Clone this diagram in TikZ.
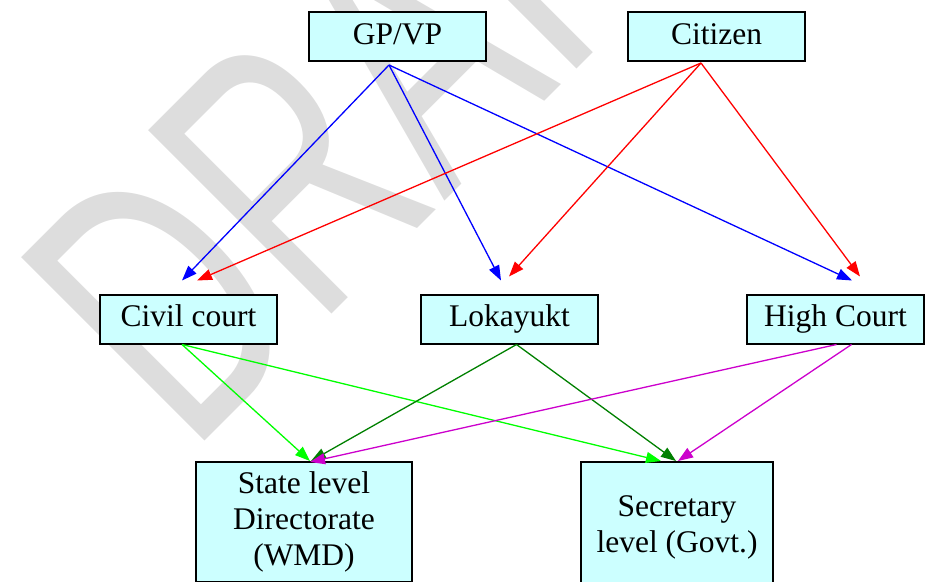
\documentclass[tikz,border=0pt]{standalone}
\usepackage{graphicx}
\usepackage{fontspec}
\setmainfont{Liberation Serif}
\newfontfamily\wmfont{Liberation Sans}
\usetikzlibrary{arrows.meta,calc}
\definecolor{boxfill}{HTML}{CCFFFF}
\definecolor{wmgray}{RGB}{221,221,221}
\definecolor{dkgreen}{HTML}{008000}
\definecolor{lgreen}{HTML}{00FF00}
\definecolor{mag}{HTML}{CC00CC}
\begin{document}
\begin{tikzpicture}[x=1pt,y=-1pt,
  box/.style={draw=black, line width=2pt, fill=boxfill, minimum width=177pt,
    minimum height=49pt, inner sep=0pt, font=\fontsize{31.5}{36}\selectfont},
  onebox/.style={box, text height=22pt, text depth=7pt},
  link/.style={line width=1.3pt, -{Triangle[length=15pt,width=11pt]}},
]
\useasboundingbox (0,0) rectangle (925,581);
\clip (0,0) rectangle (925,581);

% background watermark
\node (wm) [anchor=base west, inner sep=0pt, rotate=45, text=wmgray,
  font=\wmfont\fontsize{377}{400}\selectfont] at (190.6,455.4)
  {\scalebox{0.66}[1]{DRAFT}};

% boxes
\node[onebox] (gp)  at (397.5,36.5) {GP/VP};
\node[onebox] (cit) at (716.5,36.5) {Citizen};
\node[onebox] (civ) at (188.5,319) {Civil court};
\node[onebox] (lok) at (509.5,319) {Lokayukt};
\node[onebox] (hc)  at (835.5,319) {High Court};
\node[box, minimum width=216pt, minimum height=120pt, align=center] (sld)
  at (304,522) {State level\\Directorate\\(WMD)};
\node[box, minimum width=192pt, minimum height=130pt, align=center] (sec)
  at (677,527) {Secretary\\level (Govt.)};

% connector ends
\coordinate (gpO)  at ($(gp.south)+(-8.5,3)$);
\coordinate (citO) at ($(cit.south)+(-15.5,1)$);
\coordinate (civO) at ($(civ.south)+(-6.5,0)$);
\coordinate (lokO) at ($(lok.south)+(7,0)$);
\coordinate (hcOa) at ($(hc.south)+(1,0)$);
\coordinate (hcOb) at ($(hc.south)+(16,0)$);

\coordinate (civInB) at ($(civ.north)+(-6.5,-13)$);
\coordinate (civInR) at ($(civ.north)+(8.5,-13)$);
\coordinate (lokInB) at ($(lok.north)+(-8.5,-13)$);
\coordinate (lokInR) at ($(lok.north)+(-0.5,-17)$);
\coordinate (hcInB)  at ($(hc.north)+(16.5,-13)$);
\coordinate (hcInR)  at ($(hc.north)+(24.5,-17)$);
\coordinate (sldInG) at ($(sld.north)+(6,0)$);
\coordinate (sldInD) at ($(sld.north)+(7,0)$);
\coordinate (sldInM) at ($(sld.north)+(6,1)$);
\coordinate (secInG) at ($(sec.north)+(-16,0)$);
\coordinate (secInD) at ($(sec.north)+(-1,0)$);
\coordinate (secInM) at ($(sec.north)+(1,0)$);

% GP/VP
\draw[link, blue] (gpO) -- (civInB);
\draw[link, blue] (gpO) -- (lokInB);
\draw[link, blue] (gpO) -- (hcInB);
% Citizen
\draw[link, red] (citO) -- (civInR);
\draw[link, red] (citO) -- (lokInR);
\draw[link, red] (citO) -- (hcInR);
% Civil court
\draw[link, lgreen] (civO) -- (sldInG);
\draw[link, lgreen] (civO) -- (secInG);
% Lokayukt
\draw[link, dkgreen] (lokO) -- (sldInD);
\draw[link, dkgreen] (lokO) -- (secInD);
% High Court
\draw[link, mag] (hcOa) -- (sldInM);
\draw[link, mag] (hcOb) -- (secInM);
\end{tikzpicture}
\end{document}
